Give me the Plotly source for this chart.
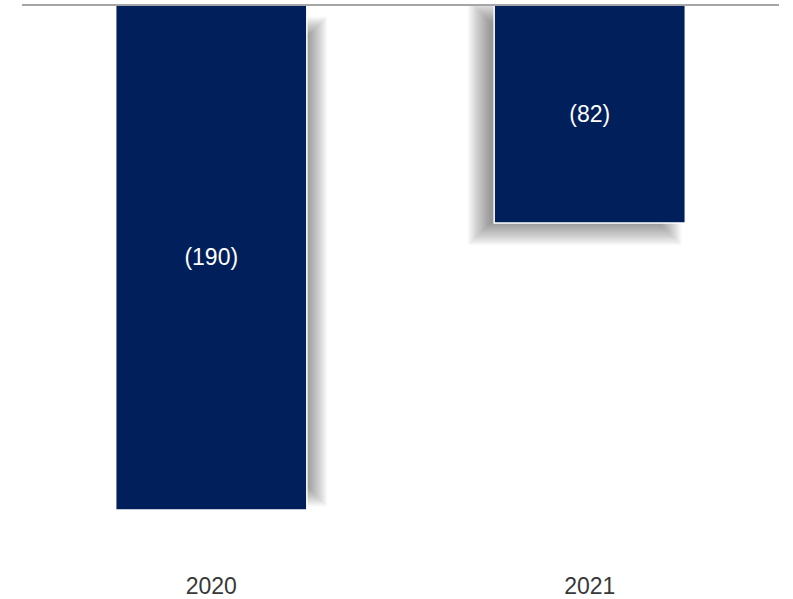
import plotly.graph_objects as go

categories = ["2020", "2021"]
values = [-190, -82]
labels = [f"({abs(v):.0f})" for v in values]

W, H = 793, 599
ML, MR, MT, MB = 22, 14, 5, 29
YMIN = -212.6
plot_w = W - ML - MR
plot_h = H - MT - MB
px_x = plot_w / 2.0          # px per category unit
px_y = plot_h / (-YMIN)      # px per value unit
BAR_W = 0.505
BAR_COLOR = "#001F5B"
FONT = "Liberation Sans, Arial, sans-serif"

# shadow styling: (dx, dy_top, dy_bottom, blur) in px
shadow_style = [(10, 22, -14, 22), (-15, 6, 11, 24)]

fig = go.Figure()
shapes = []
N = 20
for i, v in enumerate(values):
    dx, dyt, dyb, blur = shadow_style[i]
    x0 = i - BAR_W / 2 + dx / px_x
    x1 = i + BAR_W / 2 + dx / px_x
    ytop = 0 - dyt / px_y
    ybot = v - dyb / px_y
    for k in range(N):
        e = blur * (k + 0.5) / N - blur / 2
        ex = e / px_x
        ey = e / px_y
        shapes.append(dict(type="rect", xref="x", yref="y",
                           x0=x0 - ex, x1=x1 + ex,
                           y0=ytop + ey, y1=ybot - ey,
                           fillcolor="rgba(0,0,0,0.022)", line=dict(width=0),
                           layer="below"))

fig.add_trace(go.Bar(
    x=categories, y=values, width=BAR_W,
    marker=dict(color=BAR_COLOR, line=dict(color="white", width=1.5)),
    text=labels, textposition="inside", insidetextanchor="middle",
    textfont=dict(color="white", size=23, family=FONT),
    hoverinfo="skip",
))

shapes.append(dict(type="line", xref="paper", yref="paper", x0=0, x1=1, y0=1, y1=1,
                   line=dict(color="#A6A6A6", width=2), layer="above"))

fig.update_layout(
    width=W, height=H,
    margin=dict(l=ML, r=MR, t=MT, b=MB, autoexpand=False),
    paper_bgcolor="white", plot_bgcolor="white",
    showlegend=False,
    shapes=shapes,
    font=dict(family=FONT, size=23, color="#383838"),
    xaxis=dict(type="category", range=[-0.5, 1.5], showline=False, showgrid=False,
               zeroline=False, ticks="", automargin=False,
               tickfont=dict(size=23, color="#383838")),
    yaxis=dict(range=[YMIN, 0], visible=False, showgrid=False, zeroline=False,
               automargin=False),
    bargap=0.5,
)

fig.write_html("out.html", config={"displayModeBar": False},
               post_script="document.body.style.margin='0px';")
